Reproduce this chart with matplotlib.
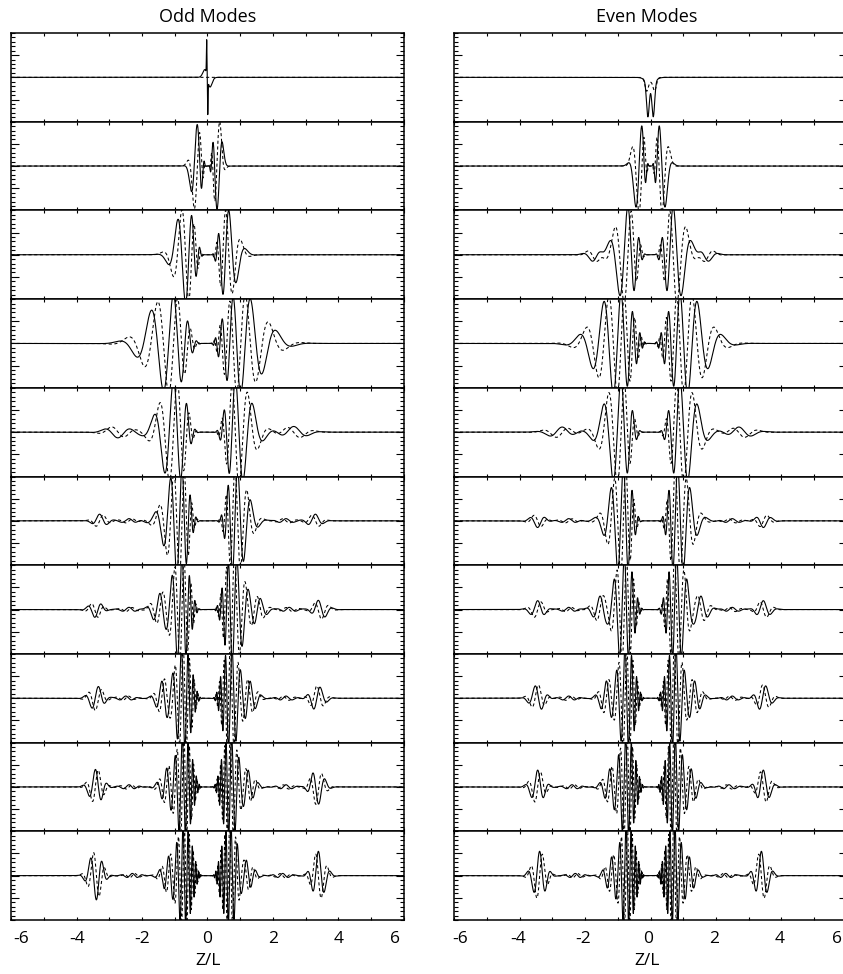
import numpy as np
import matplotlib
matplotlib.use("Agg")
import matplotlib.pyplot as plt
from matplotlib.ticker import MultipleLocator, FixedLocator, FuncFormatter
from matplotlib.transforms import ScaledTranslation

plt.rcParams['font.family'] = ['Open Sans', 'DejaVu Sans']
plt.rcParams['axes.unicode_minus'] = False

titles = ["Odd Modes", "Even Modes"]
xlabel_text = "Z/L"

# ---------------- panel 1: plain lobes (center, width, amplitude) ----------------
odd1_solid_c = [-0.025, -0.06, 0.008, 0.06]
odd1_solid_w = [0.012, 0.10, 0.012, 0.10]
odd1_solid_a = [0.78, 0.22, -0.78, -0.26]
odd1_dash_c = []
odd1_dash_w = []
odd1_dash_a = []

even1_solid_c = [-0.08, 0.085, 0.0]
even1_solid_w = [0.06, 0.06, 0.20]
even1_solid_a = [-0.78, -0.78, -0.13]
even1_dash_c = [-0.12, 0.13, 0.0]
even1_dash_w = [0.07, 0.07, 0.16]
even1_dash_a = [-0.26, -0.26, -0.09]

# ---------------- panels 2..10: wave packets ----------------
# per packet: centre, amplitude, inner width, outer width, wavelength at centre, crest position
odd_c = [
    [-0.38, 0.36],
    [-0.68, 0.60],
    [-1.15, 1.00],
    [-1.00, -2.80, 0.90, 2.70],
    [-0.85, -2.40, -3.30, 0.85, 2.40, 3.30],
    [-0.80, -1.50, -2.40, -3.40, 0.78, 1.55, 2.50, 3.45],
    [-0.75, -1.35, -2.50, -3.40, 0.72, 1.30, 2.40, 3.35],
    [-0.74, -1.25, -2.40, -3.40, 0.71, 1.25, 2.40, 3.35],
    [-0.73, -1.20, -2.30, -3.42, 0.70, 1.20, 2.30, 3.40],
]
odd_a = [
    [0.98, 1.02],
    [1.08, 1.02],
    [1.12, 1.12],
    [1.20, 0.13, 1.20, 0.13],
    [1.25, 0.05, 0.15, 1.20, 0.05, 0.15],
    [1.20, 0.28, 0.05, 0.18, 1.22, 0.25, 0.05, 0.22],
    [1.15, 0.35, 0.05, 0.28, 1.15, 0.32, 0.05, 0.28],
    [1.15, 0.32, 0.05, 0.40, 1.15, 0.30, 0.05, 0.40],
    [1.12, 0.32, 0.05, 0.55, 1.12, 0.30, 0.05, 0.55],
]
odd_win = [
    [0.35, 0.35],
    [0.52, 0.40],
    [0.83, 0.96],
    [0.57, 0.60, 0.55, 0.60],
    [0.46, 0.35, 0.30, 0.40, 0.35, 0.30],
    [0.44, 0.25, 0.35, 0.25, 0.46, 0.25, 0.35, 0.28],
    [0.46, 0.22, 0.35, 0.28, 0.46, 0.22, 0.35, 0.28],
    [0.46, 0.22, 0.35, 0.27, 0.46, 0.22, 0.35, 0.27],
    [0.46, 0.20, 0.35, 0.27, 0.46, 0.20, 0.35, 0.27],
]
odd_wout = [
    [0.17, 0.13],
    [0.42, 0.40],
    [0.90, 0.95],
    [0.60, 0.45, 0.60, 0.50],
    [0.55, 0.35, 0.25, 0.48, 0.35, 0.25],
    [0.42, 0.30, 0.35, 0.28, 0.45, 0.30, 0.35, 0.28],
    [0.36, 0.28, 0.35, 0.28, 0.36, 0.28, 0.35, 0.28],
    [0.33, 0.28, 0.35, 0.27, 0.33, 0.28, 0.35, 0.27],
    [0.32, 0.28, 0.35, 0.27, 0.32, 0.28, 0.35, 0.27],
]
odd_lam = [
    [0.41, 0.39],
    [0.44, 0.39],
    [0.60, 0.52],
    [0.48, 0.85, 0.45, 0.85],
    [0.32, 0.45, 0.50, 0.32, 0.45, 0.50],
    [0.27, 0.40, 0.40, 0.42, 0.27, 0.40, 0.40, 0.45],
    [0.22, 0.32, 0.38, 0.42, 0.22, 0.32, 0.38, 0.42],
    [0.19, 0.28, 0.35, 0.38, 0.19, 0.28, 0.35, 0.38],
    [0.17, 0.25, 0.33, 0.36, 0.17, 0.25, 0.33, 0.36],
]
odd_crest = [
    [-0.31, 0.16],
    [-0.92, 0.65],
    [-1.04, 0.78],
    [-1.04, -3.18, 0.85, 2.63],
    [-0.78, -2.40, -3.30, 0.92, 2.40, 3.30],
    [-0.78, -1.45, -2.40, -3.67, 0.90, 1.61, 2.50, 3.38],
    [-0.80, -1.40, -2.50, -3.33, 0.75, 1.30, 2.40, 3.45],
    [-0.77, -1.25, -2.40, -3.43, 0.74, 1.25, 2.40, 3.60],
    [-0.75, -1.20, -2.30, -3.58, 0.72, 1.20, 2.30, 3.39],
]

even_c = [
    [-0.38, 0.38],
    [-0.75, -1.70, 0.75, 1.70],
    [-1.05, 1.05],
    [-0.95, -2.80, 0.95, 2.80],
    [-0.83, -2.50, -3.45, 0.83, 2.50, 3.45],
    [-0.79, -1.55, -2.50, -3.45, 0.79, 1.55, 2.50, 3.45],
    [-0.75, -1.35, -2.50, -3.45, 0.75, 1.35, 2.50, 3.45],
    [-0.74, -1.25, -2.40, -3.45, 0.74, 1.25, 2.40, 3.45],
    [-0.73, -1.20, -2.30, -3.40, 0.73, 1.20, 2.30, 3.40],
]
even_a = [
    [1.05, 1.05],
    [1.10, 0.15, 1.10, 0.15],
    [1.15, 1.15],
    [1.20, 0.12, 1.20, 0.12],
    [1.25, 0.05, 0.15, 1.25, 0.05, 0.15],
    [1.20, 0.25, 0.05, 0.20, 1.20, 0.25, 0.05, 0.20],
    [1.15, 0.32, 0.05, 0.30, 1.15, 0.32, 0.05, 0.30],
    [1.15, 0.30, 0.05, 0.38, 1.15, 0.30, 0.05, 0.38],
    [1.12, 0.30, 0.05, 0.55, 1.12, 0.30, 0.05, 0.55],
]
even_win = [
    [0.36, 0.36],
    [0.55, 0.25, 0.55, 0.25],
    [0.99, 0.99],
    [0.55, 0.55, 0.55, 0.55],
    [0.42, 0.35, 0.28, 0.42, 0.35, 0.28],
    [0.45, 0.25, 0.35, 0.28, 0.45, 0.25, 0.35, 0.28],
    [0.46, 0.22, 0.35, 0.28, 0.46, 0.22, 0.35, 0.28],
    [0.46, 0.22, 0.35, 0.27, 0.46, 0.22, 0.35, 0.27],
    [0.46, 0.20, 0.35, 0.27, 0.46, 0.20, 0.35, 0.27],
]
even_wout = [
    [0.20, 0.20],
    [0.45, 0.30, 0.45, 0.30],
    [0.85, 0.85],
    [0.60, 0.50, 0.60, 0.50],
    [0.52, 0.35, 0.28, 0.52, 0.35, 0.28],
    [0.43, 0.30, 0.35, 0.28, 0.43, 0.30, 0.35, 0.28],
    [0.36, 0.28, 0.35, 0.28, 0.36, 0.28, 0.35, 0.28],
    [0.33, 0.28, 0.35, 0.27, 0.33, 0.28, 0.35, 0.27],
    [0.32, 0.28, 0.35, 0.27, 0.32, 0.28, 0.35, 0.27],
]
even_lam = [
    [0.43, 0.43],
    [0.48, 0.60, 0.48, 0.60],
    [0.49, 0.49],
    [0.46, 0.80, 0.46, 0.80],
    [0.32, 0.45, 0.48, 0.32, 0.45, 0.48],
    [0.27, 0.40, 0.40, 0.45, 0.27, 0.40, 0.40, 0.45],
    [0.22, 0.32, 0.38, 0.42, 0.22, 0.32, 0.38, 0.42],
    [0.19, 0.28, 0.35, 0.38, 0.19, 0.28, 0.35, 0.38],
    [0.17, 0.25, 0.33, 0.36, 0.17, 0.25, 0.33, 0.36],
]
even_crest = [
    [-0.26, 0.26],
    [-0.69, -1.50, 0.69, 1.50],
    [-0.90, 0.90],
    [-0.90, -2.69, 0.90, 2.69],
    [-0.83, -2.50, -3.22, 0.83, 2.50, 3.22],
    [-0.80, -1.55, -2.50, -3.45, 0.80, 1.55, 2.50, 3.45],
    [-0.78, -1.35, -2.50, -3.53, 0.78, 1.35, 2.50, 3.53],
    [-0.76, -1.25, -2.40, -3.45, 0.76, 1.25, 2.40, 3.45],
    [-0.75, -1.20, -2.30, -3.39, 0.75, 1.20, 2.30, 3.39],
]

xtick_values = [-6, -5, -4, -3, -2, -1, 0, 1, 2, 3, 4, 5, 6]
CHIRP_P = 0.85
INNER_EXP = 2.0

# ---------------- helpers ----------------
x = np.linspace(-6, 6, 30001)
r = np.maximum(np.abs(x), 1e-6)


def lobes(cs, ws, as_):
    y = np.zeros_like(x)
    for c, w, a in zip(cs, ws, as_):
        y += a * np.exp(-((x - c) / w) ** 2)
    return y


def phase(rr, c, lam):
    rc = abs(c)
    kc = 2 * np.pi / lam
    return kc * rc ** CHIRP_P * (rr ** (1 - CHIRP_P) - rc ** (1 - CHIRP_P)) / (1 - CHIRP_P)


def packets(cs, as_, wins, wouts, lams, crests):
    solid = np.zeros_like(x)
    dashed = np.zeros_like(x)
    for c, a, wi, wo, lam, cr in zip(cs, as_, wins, wouts, lams, crests):
        rc = abs(c)
        e_out = ((r - rc) / wo) ** 2
        e_in = np.abs(np.log(r / rc) * rc / wi) ** INNER_EXP
        e = np.where(r > rc, e_out, e_in)
        env = a * np.exp(-e) * (x * c > 0)
        th = phase(r, c, lam) - phase(abs(cr), c, lam)
        solid += env * np.cos(th)
        dashed += env * np.cos(th + np.pi / 2)
    return solid, dashed


W, H = 843, 974
fig = plt.figure(figsize=(W / 100, H / 100), dpi=100)
col_left = [11.3, 454.3]
col_w = 392.4
top0 = 33.0
row_h = 88.7
title_x = [207.3, 646.7]
px2pt = 72.0 / 100.0

columns = [
    dict(s1=(odd1_solid_c, odd1_solid_w, odd1_solid_a), d1=(odd1_dash_c, odd1_dash_w, odd1_dash_a),
         c=odd_c, a=odd_a, wi=odd_win, wo=odd_wout, lam=odd_lam, cr=odd_crest,
         end_shift=(10.0, -9.0), lab_shift=0.0),
    dict(s1=(even1_solid_c, even1_solid_w, even1_solid_a), d1=(even1_dash_c, even1_dash_w, even1_dash_a),
         c=even_c, a=even_a, wi=even_win, wo=even_wout, lam=even_lam, cr=even_crest,
         end_shift=(6.0, -9.5), lab_shift=-2.0),
]

for ci, col in enumerate(columns):
    for i in range(10):
        y0 = top0 + i * row_h
        ax = fig.add_axes([col_left[ci] / W, 1 - (y0 + row_h) / H, col_w / W, row_h / H])
        if i == 0:
            solid = lobes(*col['s1'])
            dashed = lobes(*col['d1'])
        else:
            j = i - 1
            solid, dashed = packets(col['c'][j], col['a'][j], col['wi'][j], col['wo'][j],
                                    col['lam'][j], col['cr'][j])
        ax.plot(x, solid, color='black', lw=0.8, zorder=2)
        ax.plot(x, dashed, color='black', lw=0.75, dashes=(3, 2.5), zorder=3)
        ax.set_xlim(-6, 6)
        ax.set_ylim(-1, 1)
        for sp in ax.spines.values():
            sp.set_linewidth(1.1)
            sp.set_zorder(5)
        ax.xaxis.set_major_locator(FixedLocator(xtick_values))
        ax.yaxis.set_major_locator(FixedLocator([-0.5, 0.0, 0.5]))
        ax.yaxis.set_minor_locator(MultipleLocator(0.1))
        ax.tick_params(which='both', direction='in', top=True, bottom=True, left=True, right=True,
                       width=0.8, color='black')
        ax.tick_params(axis='x', which='major', length=3.2 * px2pt)
        ax.tick_params(axis='y', which='major', length=8 * px2pt)
        ax.tick_params(axis='y', which='minor', length=4 * px2pt)
        ax.set_yticklabels([])
        if i == 9:
            ax.xaxis.set_major_formatter(FuncFormatter(
                lambda v, p: (str(int(round(v))) if int(round(v)) % 2 == 0 else "")))
            ax.tick_params(axis='x', labelsize=12.5, pad=8)
            fig.canvas.draw()
            labs = ax.get_xticklabels()
            for lab, v in zip(labs, xtick_values):
                dx = col['lab_shift']
                if v == -6:
                    dx = col['end_shift'][0]
                elif v == 6:
                    dx = col['end_shift'][1]
                if dx != 0:
                    lab.set_transform(lab.get_transform() +
                                      ScaledTranslation(dx / 100.0, 0, fig.dpi_scale_trans))
        else:
            ax.set_xticklabels([])

    fig.text(title_x[ci] / W, 1 - 16.5 / H, titles[ci], ha='center', va='center', fontsize=13)
    fig.text(title_x[ci] / W + (1.0 / W if ci == 0 else 0), 1 - 961 / H, xlabel_text,
             ha='center', va='center', fontsize=12.5)

fig.savefig("out.png", dpi=100)
